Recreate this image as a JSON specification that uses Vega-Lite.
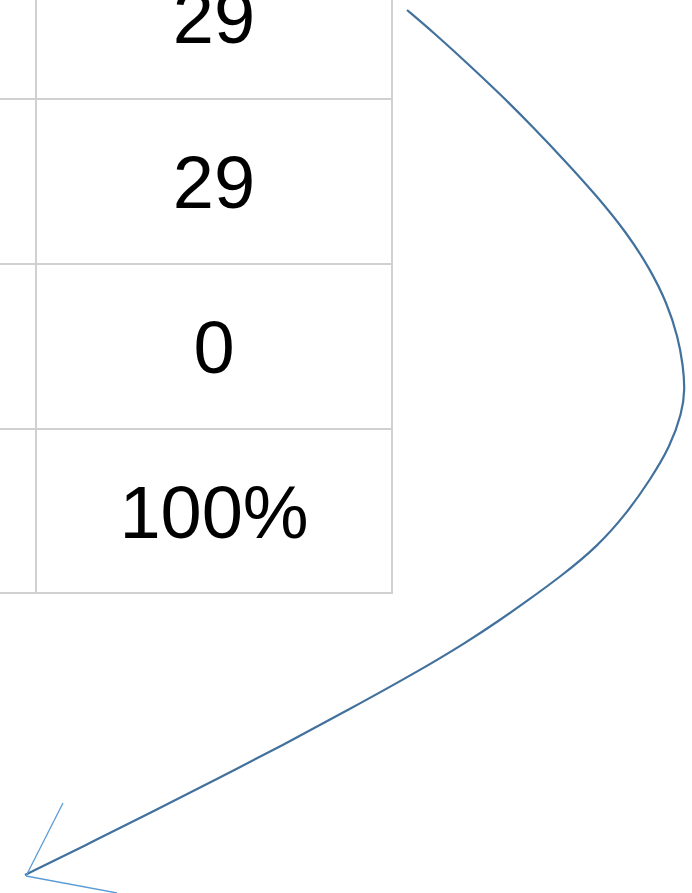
{
  "$schema": "https://vega.github.io/schema/vega-lite/v6.json",
  "width": 692,
  "height": 893,
  "autosize": {"type": "none"},
  "padding": 0,
  "background": "white",
  "config": {"view": {"stroke": null}},
  "layer": [
    {
      "data": {"values": [
        {"x1": 0, "x2": 393, "y1": 99, "y2": 99},
        {"x1": 0, "x2": 393, "y1": 264, "y2": 264},
        {"x1": 0, "x2": 393, "y1": 429, "y2": 429},
        {"x1": 0, "x2": 393, "y1": 593, "y2": 593},
        {"x1": 36, "x2": 36, "y1": 0, "y2": 593},
        {"x1": 392, "x2": 392, "y1": 0, "y2": 593}
      ]},
      "mark": {"type": "rule", "color": "#d0d0d0", "strokeWidth": 2},
      "encoding": {
        "x": {"field": "x1", "type": "quantitative", "scale": {"domain": [0, 692], "nice": false, "zero": false}, "axis": null},
        "x2": {"field": "x2"},
        "y": {"field": "y1", "type": "quantitative", "scale": {"domain": [0, 893], "nice": false, "zero": false, "reverse": true}, "axis": null},
        "y2": {"field": "y2"}
      }
    },
    {
      "data": {"values": [
        {"label": "29", "x": 214, "y": 43},
        {"label": "29", "x": 214, "y": 208},
        {"label": "0", "x": 214, "y": 373},
        {"label": "100%", "x": 214, "y": 538}
      ]},
      "mark": {"type": "text", "font": "Liberation Sans", "fontSize": 74, "color": "#000000", "align": "center", "baseline": "alphabetic", "clip": true},
      "encoding": {
        "x": {"field": "x", "type": "quantitative"},
        "y": {"field": "y", "type": "quantitative"},
        "text": {"field": "label"}
      }
    },
    {
      "data": {"values": [
        {"o": 1, "x": 407, "y": 10},
        {"o": 2, "x": 433, "y": 32},
        {"o": 3, "x": 467, "y": 63},
        {"o": 4, "x": 500, "y": 94},
        {"o": 5, "x": 533, "y": 127},
        {"o": 6, "x": 567, "y": 163},
        {"o": 7, "x": 595, "y": 194},
        {"o": 8, "x": 627, "y": 233},
        {"o": 9, "x": 650, "y": 269},
        {"o": 10, "x": 667, "y": 303},
        {"o": 11, "x": 678, "y": 337},
        {"o": 12, "x": 683, "y": 365},
        {"o": 13, "x": 685, "y": 390},
        {"o": 14, "x": 682, "y": 413},
        {"o": 15, "x": 670, "y": 447},
        {"o": 16, "x": 650, "y": 480},
        {"o": 17, "x": 627, "y": 513},
        {"o": 18, "x": 597, "y": 547},
        {"o": 19, "x": 560, "y": 577},
        {"o": 20, "x": 527, "y": 601},
        {"o": 21, "x": 500, "y": 620},
        {"o": 22, "x": 467, "y": 642},
        {"o": 23, "x": 417, "y": 672},
        {"o": 24, "x": 350, "y": 709},
        {"o": 25, "x": 283, "y": 745},
        {"o": 26, "x": 217, "y": 779},
        {"o": 27, "x": 150, "y": 813},
        {"o": 28, "x": 88, "y": 844},
        {"o": 29, "x": 25, "y": 875}
      ]},
      "mark": {"type": "line", "color": "#41719c", "strokeWidth": 2.2, "interpolate": "basis"},
      "encoding": {
        "x": {"field": "x", "type": "quantitative"},
        "y": {"field": "y", "type": "quantitative"},
        "order": {"field": "o", "type": "quantitative"}
      }
    },
    {
      "data": {"values": [
        {"x1": 26, "y1": 876, "x2": 63, "y2": 803},
        {"x1": 26, "y1": 876, "x2": 117, "y2": 893}
      ]},
      "mark": {"type": "rule", "color": "#5b9bd5", "strokeWidth": 1.3},
      "encoding": {
        "x": {"field": "x1", "type": "quantitative"},
        "x2": {"field": "x2"},
        "y": {"field": "y1", "type": "quantitative"},
        "y2": {"field": "y2"}
      }
    }
  ]
}
